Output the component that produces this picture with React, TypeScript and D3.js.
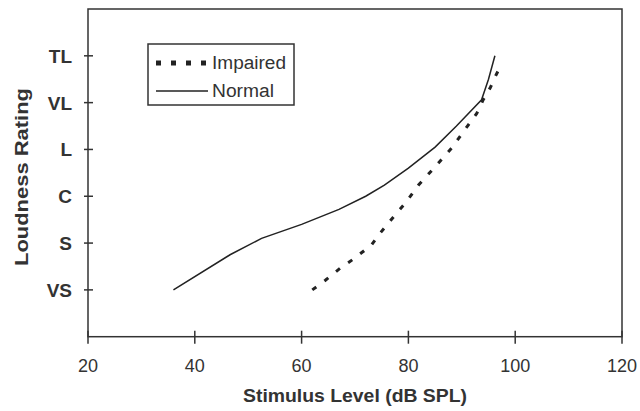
import React from "react";
import * as d3 from "d3";

const xTicks = [20, 40, 60, 80, 100, 120];
const yCategories = ["VS", "S", "C", "L", "VL", "TL"];

const normalX = [36, 46.6, 52.5, 60, 67, 72, 75.5, 80, 85, 89, 93.7, 95, 96.2];
const normalY = [1.0, 1.75, 2.1, 2.4, 2.72, 3.0, 3.24, 3.6, 4.05, 4.5, 5.06, 5.5, 6.0];

const impairedX = [62, 64.4, 67.2, 69.6, 73.1, 74.7, 77.8, 79.4, 81.9, 85, 88.1, 91.2, 92.8, 94, 95.3, 96.2, 97.5];
const impairedY = [1.0, 1.2, 1.46, 1.65, 1.96, 2.21, 2.64, 2.85, 3.24, 3.63, 4.03, 4.52, 4.77, 5.06, 5.31, 5.54, 5.84];

const W = 640;
const H = 411;
const L = 88, R = 622, T = 9, B = 336.7;
const FONT = "'Liberation Sans', Arial, sans-serif";

export default function App() {
  const x = d3.scaleLinear().domain([20, 120]).range([L, R]);
  const y = d3.scaleLinear().domain([0, 7]).range([B, T]);
  const line = d3.line<[number, number]>().x((d) => x(d[0])).y((d) => y(d[1]));
  const normal = normalX.map((v, i) => [v, normalY[i]] as [number, number]);
  const impaired = impairedX.map((v, i) => [v, impairedY[i]] as [number, number]);
  const ink = "#222";

  return (
    <svg width={W} height={H} style={{ position: "absolute", left: 0, top: 0, background: "#fff" }} fontFamily={FONT}>
      <rect x={0} y={0} width={W} height={H} fill="#fff" />
      {/* frame */}
      <rect x={L} y={T} width={R - L} height={B - T} fill="none" stroke="#333" strokeWidth={1.5} />
      {/* x ticks */}
      {xTicks.map((t) => (
        <g key={t}>
          <line x1={x(t)} x2={x(t)} y1={B - 6} y2={B + 7} stroke="#333" strokeWidth={1.5} />
          <text x={x(t)} y={372} textAnchor="middle" fontSize={18} fill="#333">{t}</text>
        </g>
      ))}
      {/* y ticks */}
      {yCategories.map((c, i) => (
        <g key={c}>
          <line x1={L - 4} x2={L + 5} y1={y(i + 1)} y2={y(i + 1)} stroke="#333" strokeWidth={1.5} />
          <text x={72} y={y(i + 1) + 7} textAnchor="end" fontSize={19} fontWeight="bold" fill="#333">{c}</text>
        </g>
      ))}
      {/* axis titles */}
      <text x={355} y={402} textAnchor="middle" fontSize={18} fontWeight="bold" fill="#333"
        textLength={224} lengthAdjust="spacingAndGlyphs">Stimulus Level (dB SPL)</text>
      <text transform={`translate(28,177) rotate(-90)`} textAnchor="middle" fontSize={18} fontWeight="bold" fill="#333"
        textLength={178} lengthAdjust="spacingAndGlyphs">Loudness Rating</text>
      {/* lines */}
      <path d={line(normal) || ""} fill="none" stroke={ink} strokeWidth={1.5} />
      <path d={line(impaired) || ""} fill="none" stroke={ink} strokeWidth={3} strokeDasharray="5,10" />
      {/* legend */}
      <rect x={148} y={44} width={146} height={61} fill="#fff" stroke="#333" strokeWidth={1.5} />
      <line x1={156} x2={208} y1={63} y2={63} stroke={ink} strokeWidth={5} strokeDasharray="5,10" />
      <line x1={156} x2={208} y1={91} y2={91} stroke={ink} strokeWidth={1.5} />
      <text x={212} y={69} fontSize={18} fill="#333" textLength={74} lengthAdjust="spacingAndGlyphs">Impaired</text>
      <text x={212} y={97} fontSize={18} fill="#333" textLength={62} lengthAdjust="spacingAndGlyphs">Normal</text>
    </svg>
  );
}
